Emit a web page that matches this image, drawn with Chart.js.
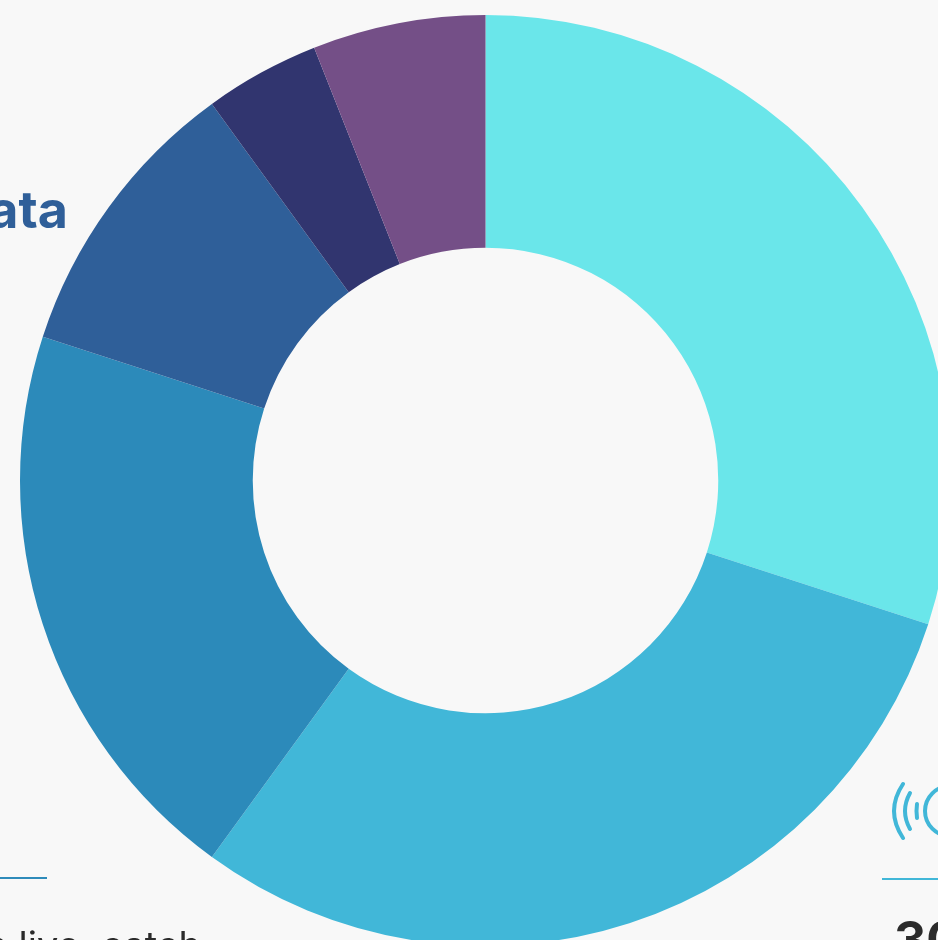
<!DOCTYPE html>
<html>
<head>
<meta charset="utf-8">
<style>
html,body{margin:0;padding:0;width:938px;height:940px;overflow:hidden;background:#f8f8f8;font-family:Inter,sans-serif}
#wrap{position:absolute;left:20px;top:15px;width:931px;height:931px}
.t{position:absolute;white-space:nowrap}
.rule{position:absolute;height:2px}
</style>
</head>
<body>
<div id="wrap"><canvas id="c" width="931" height="931"></canvas></div>
<div class="t" style="right:870px;top:178px;font-size:52px;line-height:63px;font-weight:700;color:#2f5f99">Data</div>
<div class="rule" style="left:-20px;width:67px;top:877px;background:#2e8bba"></div>
<div class="rule" style="left:882px;width:80px;top:878px;background:#41b7d8"></div>
<div class="t" style="right:737px;top:922px;font-size:38px;line-height:46px;color:#2b2b2b">a live, catch</div>
<div class="t" style="left:894px;top:909px;font-size:50px;line-height:60px;font-weight:700;color:#2b2b2b">30</div>
<svg style="position:absolute;left:885px;top:775px" width="53" height="70" viewBox="0 0 53 70" fill="none" stroke="#41b7d8" stroke-width="4" stroke-linecap="round">
<path d="M18 9Q0 36 18 63"/>
<path d="M25 18Q15 36 25 54"/>
<path d="M32 29Q31 36 32 43"/>
<circle cx="65" cy="36" r="25"/>
</svg>
<script src="https://cdn.jsdelivr.net/npm/chart.js@4"></script>
<script>
const categories = ["Segment A","Segment B","Segment C","Data","Segment E","Segment F"];
const seriesValues = [30,30,20,10,4,6];
const sliceColors = ["#6ae6ea","#41b7d8","#2c8aba","#2f5f99","#31356f","#744f87"];
new Chart(document.getElementById("c"),{
  type:"doughnut",
  data:{labels:categories,datasets:[{data:seriesValues,backgroundColor:sliceColors,borderWidth:0}]},
  options:{
    responsive:false,
    animation:false,
    cutout:"50%",
    layout:{padding:0},
    plugins:{legend:{display:false},tooltip:{enabled:false},title:{display:false}}
  }
});
</script>
</body>
</html>
